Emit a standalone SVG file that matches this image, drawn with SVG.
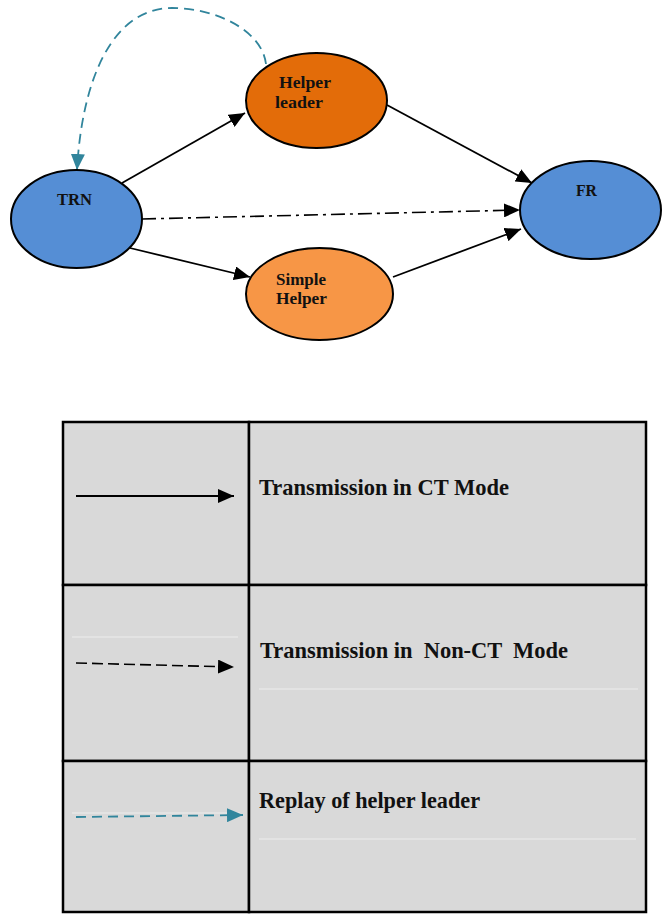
<svg xmlns="http://www.w3.org/2000/svg" width="665" height="914" viewBox="0 0 665 914">
<style>
.node{stroke:#000;stroke-width:2}
.lbl{font-family:"Liberation Serif","Times New Roman",serif;font-weight:bold;font-size:17.5px;fill:#111}
.leg{font-family:"Liberation Serif","Times New Roman",serif;font-weight:bold;font-size:23.5px;fill:#111}
.ct{stroke:#000;stroke-width:1.8;fill:none}
.dd{stroke:#000;stroke-width:1.6;fill:none;stroke-dasharray:14 5 3 5}
.nct{stroke:#000;stroke-width:1.6;fill:none;stroke-dasharray:11 5}
.rep{stroke:#31859C;stroke-width:1.8;fill:none;stroke-dasharray:10 6}
.faint{stroke:#EDEDED;stroke-width:1}
.cell{fill:#D9D9D9;stroke:#000;stroke-width:2.5}
</style>
<defs>
<marker id="ab" markerUnits="userSpaceOnUse" markerWidth="17" markerHeight="14" refX="16" refY="7" orient="auto">
<path d="M0,0 L16,7 L0,14 Z" fill="#000"/>
</marker>
<marker id="at" markerUnits="userSpaceOnUse" markerWidth="17" markerHeight="14" refX="16" refY="7" orient="auto">
<path d="M0,0 L16,7 L0,14 Z" fill="#31859C"/>
</marker>
</defs>
<rect width="665" height="914" fill="#fff"/>

<g id="connectors">
<path class="rep" d="M266,64 C262,30 215,8 172,8 C112,8 82,80 77,170" marker-end="url(#at)"/>
<line class="ct" x1="122" y1="183" x2="245" y2="113" marker-end="url(#ab)"/>
<line class="ct" x1="387" y1="105" x2="532" y2="183" marker-end="url(#ab)"/>
<line class="dd" x1="142" y1="219" x2="520" y2="210" marker-end="url(#ab)"/>
<line class="ct" x1="130" y1="248" x2="250" y2="277" marker-end="url(#ab)"/>
<line class="ct" x1="393" y1="277" x2="521" y2="229" marker-end="url(#ab)"/>
</g>

<g id="node-trn">
<ellipse class="node" cx="76.5" cy="219" rx="65.5" ry="49" fill="#558ED5"/>
<text class="lbl" x="57" y="205" textLength="35" lengthAdjust="spacingAndGlyphs">TRN</text>
</g>
<g id="node-helper-leader">
<ellipse class="node" cx="316.5" cy="100.5" rx="70.5" ry="47.5" fill="#E36C09"/>
<text class="lbl" x="279" y="88" textLength="52" lengthAdjust="spacingAndGlyphs">Helper</text>
<text class="lbl" x="275" y="108" textLength="48" lengthAdjust="spacingAndGlyphs">leader</text>
</g>
<g id="node-simple-helper">
<ellipse class="node" cx="319.5" cy="294" rx="73.5" ry="46" fill="#F79646"/>
<text class="lbl" x="276" y="285" textLength="50" lengthAdjust="spacingAndGlyphs">Simple</text>
<text class="lbl" x="276" y="304" textLength="51" lengthAdjust="spacingAndGlyphs">Helper</text>
</g>
<g id="node-fr">
<ellipse class="node" cx="590.5" cy="210" rx="70.5" ry="49" fill="#558ED5"/>
<text class="lbl" x="576" y="196" textLength="21" lengthAdjust="spacingAndGlyphs">FR</text>
</g>

<g id="legend">
<rect class="cell" x="63" y="422" width="186" height="163"/>
<rect class="cell" x="249" y="422" width="397" height="163"/>
<rect class="cell" x="63" y="585" width="186" height="176"/>
<rect class="cell" x="249" y="585" width="397" height="176"/>
<rect class="cell" x="63" y="761" width="186" height="151"/>
<rect class="cell" x="249" y="761" width="397" height="151"/>
<line class="faint" x1="72" y1="637" x2="238" y2="637"/>
<line class="faint" x1="259" y1="689" x2="638" y2="689"/>
<line class="faint" x1="72" y1="813" x2="240" y2="813"/>
<line class="faint" x1="259" y1="839" x2="636" y2="839"/>
<line class="ct" x1="76" y1="496" x2="234" y2="496" marker-end="url(#ab)"/>
<line class="nct" x1="76" y1="663" x2="234" y2="667" marker-end="url(#ab)"/>
<line class="rep" x1="76" y1="817" x2="243" y2="815" marker-end="url(#at)"/>
<text class="leg" x="259" y="495" textLength="250" lengthAdjust="spacingAndGlyphs">Transmission in CT Mode</text>
<text class="leg" x="260" y="658" textLength="308" lengthAdjust="spacingAndGlyphs" xml:space="preserve">Transmission in  Non-CT  Mode</text>
<text class="leg" x="259" y="808" textLength="221" lengthAdjust="spacingAndGlyphs">Replay of helper leader</text>
</g>
</svg>
